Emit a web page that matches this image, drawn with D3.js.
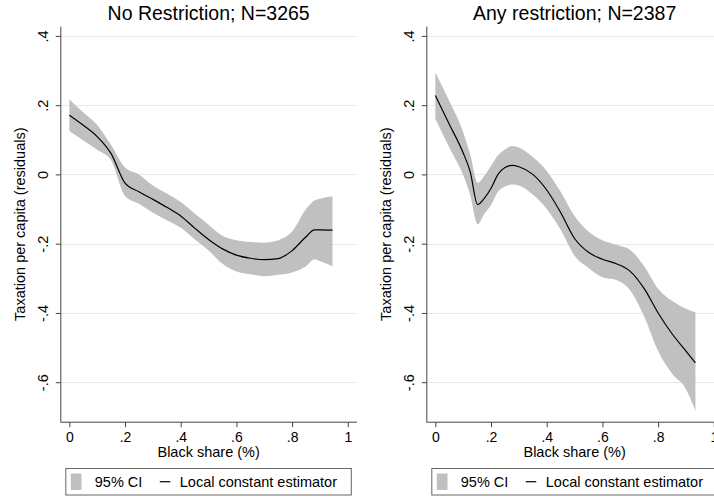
<!DOCTYPE html>
<html>
<head>
<meta charset="utf-8">
<script src="https://cdn.jsdelivr.net/npm/d3@7"></script>
<style>
  body { margin: 0; background: #fff; }
  svg { display: block; font-family: "Liberation Sans", Arial, sans-serif; }
</style>
</head>
<body>
<div id="mainDiv"></div>
<script>
'use strict';

// tick values and labels
var xTicks = [0, 0.2, 0.4, 0.6, 0.8, 1];
var xTickLabels = ['0', '.2', '.4', '.6', '.8', '1'];
var yTicks = [0.4, 0.2, 0, -0.2, -0.4, -0.6];
var yTickLabels = ['.4', '.2', '0', '-.2', '-.4', '-.6'];

var titles = ['No Restriction; N=3265', 'Any restriction; N=2387'];
var legendKeys = ['95% CI', 'Local constant estimator'];

// left panel: no restriction
var leftX   = [0, 0.05, 0.1, 0.15, 0.2, 0.25, 0.3, 0.35, 0.4, 0.45, 0.5, 0.55, 0.6, 0.65, 0.7, 0.75, 0.8, 0.85, 0.88, 0.9, 0.945];
var leftFit = [0.171, 0.142, 0.109, 0.06, -0.025, -0.05, -0.072, -0.095, -0.12, -0.155, -0.188, -0.215, -0.233, -0.242, -0.246, -0.243, -0.22, -0.18, -0.16, -0.16, -0.161];
var leftLo  = [0.125, 0.098, 0.071, 0.04, -0.062, -0.085, -0.111, -0.132, -0.154, -0.187, -0.22, -0.258, -0.28, -0.288, -0.294, -0.29, -0.283, -0.265, -0.245, -0.25, -0.265];
var leftHi  = [0.216, 0.179, 0.143, 0.085, 0.02, 0.0, -0.032, -0.055, -0.08, -0.113, -0.145, -0.177, -0.19, -0.195, -0.197, -0.19, -0.165, -0.1, -0.075, -0.07, -0.063];

// right panel: any restriction
var rightX   = [0, 0.05, 0.1, 0.125, 0.152, 0.175, 0.2, 0.225, 0.25, 0.275, 0.3, 0.35, 0.4, 0.45, 0.5, 0.55, 0.6, 0.65, 0.7, 0.75, 0.8, 0.85, 0.9, 0.934];
var rightFit = [0.228, 0.145, 0.062, 0.008, -0.087, -0.07, -0.04, 0.0, 0.02, 0.026, 0.022, 0.0, -0.045, -0.11, -0.185, -0.225, -0.245, -0.258, -0.28, -0.33, -0.4, -0.46, -0.51, -0.544];
var rightLo  = [0.161, 0.078, -0.002, -0.06, -0.144, -0.115, -0.088, -0.05, -0.035, -0.029, -0.032, -0.058, -0.1, -0.16, -0.235, -0.27, -0.297, -0.305, -0.335, -0.41, -0.51, -0.575, -0.62, -0.683];
var rightHi  = [0.295, 0.212, 0.122, 0.058, -0.024, -0.005, 0.025, 0.055, 0.072, 0.082, 0.078, 0.05, 0.01, -0.05, -0.12, -0.165, -0.19, -0.203, -0.218, -0.265, -0.33, -0.365, -0.388, -0.398];

var chart = {};
chart.w = 714;
chart.h = 497;
chart.plotTop = 26.7;
chart.plotBottom = 421.7;
chart.plotW = 296.7;
chart.panelLeft = [60.3, 426.3];
chart.bandColor = '#c0c0c0';
chart.gridColor = '#e8e8e8';
chart.axisColor = '#444';

chart.xScale = d3.scaleLinear().domain([-0.0325, 1.033]).range([0, chart.plotW]);
chart.yScale = d3.scaleLinear().domain([-0.714, 0.4265]).range([chart.plotBottom, chart.plotTop]);

chart.drawPanel = function(svg, i, xs, fit, lo, hi)
{
    var g = svg.append('g')
        .attr('transform', 'translate(' + chart.panelLeft[i] + ',0)');
    var x = chart.xScale, y = chart.yScale;
    var midX = chart.plotW / 2;

    // grid
    g.selectAll('line.grid')
        .data(yTicks)
        .enter()
        .append('line')
        .attr('class', 'grid')
        .attr('x1', 0)
        .attr('x2', chart.plotW)
        .attr('y1', function(d){ return Math.round(y(d)) + 0.5; })
        .attr('y2', function(d){ return Math.round(y(d)) + 0.5; })
        .attr('stroke', chart.gridColor)
        .attr('stroke-width', 1.2);

    // CI band
    var idx = d3.range(xs.length);
    var area = d3.area()
        .x(function(k){ return x(xs[k]); })
        .y0(function(k){ return y(lo[k]); })
        .y1(function(k){ return y(hi[k]); })
        .curve(d3.curveMonotoneX);
    g.append('path')
        .datum(idx)
        .attr('d', area)
        .attr('fill', chart.bandColor);

    // fitted line
    var line = d3.line()
        .x(function(k){ return x(xs[k]); })
        .y(function(k){ return y(fit[k]); })
        .curve(d3.curveMonotoneX);
    g.append('path')
        .datum(idx)
        .attr('d', line)
        .attr('fill', 'none')
        .attr('stroke', '#000')
        .attr('stroke-width', 1.2);

    // y axis
    var yAxis = d3.axisLeft(y).tickValues(yTicks).tickSize(5).tickSizeOuter(0)
        .tickFormat(function(d, k){ return yTickLabels[k]; });
    var yg = g.append('g').attr('transform', 'translate(0.5,0)').call(yAxis);
    yg.select('.domain').attr('stroke', chart.axisColor).attr('d', 'M0,' + chart.plotTop + 'V' + chart.plotBottom);
    yg.selectAll('.tick line').attr('stroke', chart.axisColor);
    yg.selectAll('.tick text')
        .attr('transform', 'rotate(-90)')
        .attr('x', 0)
        .attr('y', -12.5)
        .attr('dy', 0)
        .attr('text-anchor', 'middle')
        .style('font-size', '14.5px')
        .style('font-family', '"Liberation Sans", Arial, sans-serif')
        .attr('fill', '#000');

    // x axis
    var xAxis = d3.axisBottom(x).tickValues(xTicks).tickSize(5).tickSizeOuter(0)
        .tickFormat(function(d, k){ return xTickLabels[k]; });
    var xg = g.append('g').attr('transform', 'translate(0,' + (chart.plotBottom + 0.5) + ')').call(xAxis);
    xg.select('.domain').attr('stroke', chart.axisColor).attr('d', 'M0,0H' + chart.plotW);
    xg.selectAll('.tick line').attr('stroke', chart.axisColor);
    xg.selectAll('.tick text')
        .attr('y', 19.8)
        .attr('dy', 0)
        .style('font-size', '14px')
        .style('font-family', '"Liberation Sans", Arial, sans-serif')
        .attr('fill', '#000');

    // titles
    g.append('text')
        .attr('x', midX)
        .attr('y', 20)
        .attr('text-anchor', 'middle')
        .style('font-size', '19.5px')
        .text(titles[i]);

    g.append('text')
        .attr('x', midX)
        .attr('y', 457)
        .attr('text-anchor', 'middle')
        .style('font-size', '14.5px')
        .text('Black share (%)');

    g.append('text')
        .attr('transform', 'rotate(-90)')
        .attr('x', -(chart.plotTop + chart.plotBottom) / 2)
        .attr('y', -35.5)
        .attr('text-anchor', 'middle')
        .style('font-size', '14.5px')
        .text('Taxation per capita (residuals)');

    // legend
    var lg = g.append('g').attr('transform', 'translate(5.5,468.5)');
    lg.append('rect')
        .attr('width', 285.5)
        .attr('height', 26.5)
        .attr('fill', '#fff')
        .attr('stroke', '#666');
    lg.append('rect')
        .attr('x', 5)
        .attr('y', 5)
        .attr('width', 10.7)
        .attr('height', 16.5)
        .attr('fill', chart.bandColor);
    lg.append('text')
        .attr('x', 29)
        .attr('y', 18.3)
        .style('font-size', '14.5px')
        .text(legendKeys[0]);
    lg.append('line')
        .attr('x1', 94)
        .attr('x2', 104.5)
        .attr('y1', 13.2)
        .attr('y2', 13.2)
        .attr('stroke', '#000')
        .attr('stroke-width', 1.2);
    lg.append('text')
        .attr('x', 114)
        .attr('y', 18.3)
        .style('font-size', '14.5px')
        .text(legendKeys[1]);
}

chart.run = function()
{
    var svg = d3.select('#mainDiv').append('svg')
        .attr('width', chart.w)
        .attr('height', chart.h);
    svg.append('rect').attr('width', chart.w).attr('height', chart.h).attr('fill', '#fff');

    chart.drawPanel(svg, 0, leftX, leftFit, leftLo, leftHi);
    chart.drawPanel(svg, 1, rightX, rightFit, rightLo, rightHi);
}

window.onload = chart.run;
</script>
</body>
</html>
